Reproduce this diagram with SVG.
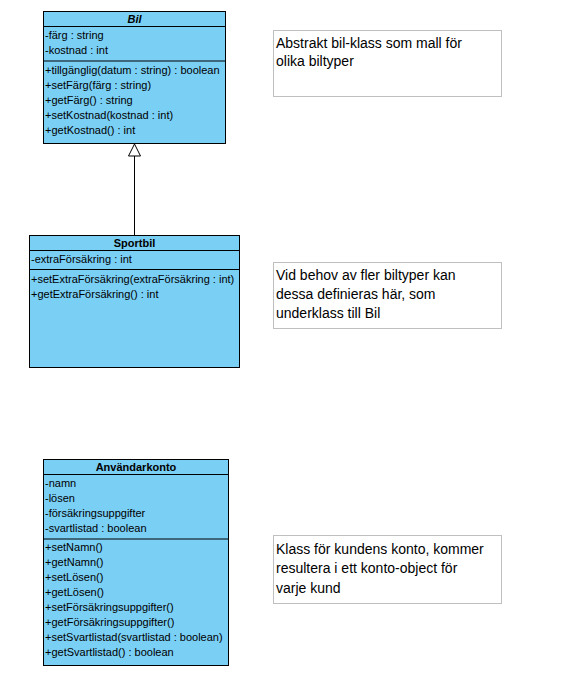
<svg xmlns="http://www.w3.org/2000/svg" width="565" height="680" viewBox="0 0 565 680">
<style>
.cls{fill:#7ACFF5;stroke:#000;stroke-width:1}
.sep{stroke:#000;stroke-width:1}
.t{font-family:"Liberation Sans",Arial,sans-serif;font-size:11px;fill:#000}
.h{font-family:"Liberation Sans",Arial,sans-serif;font-size:11px;font-weight:bold;fill:#000;text-anchor:middle}
.note{fill:#fff;stroke:#BFBFBF;stroke-width:1}
.n{font-family:"Liberation Sans",Arial,sans-serif;font-size:14px;fill:#000}
</style>
<rect width="565" height="680" fill="#fff"/>
<g id="connectors">
<line x1="134.5" y1="156" x2="134.5" y2="235.5" stroke="#000" stroke-width="1"/>
<polygon points="134.5,144 128.5,156 140.5,156" fill="#fff" stroke="#000" stroke-width="1"/>
</g>
<g id="Bil">
<rect class="cls" x="43.5" y="11.5" width="182" height="132"/>
<line class="sep" x1="43.5" y1="26.5" x2="225.5" y2="26.5"/>
<line class="sep" x1="43.5" y1="61" x2="225.5" y2="61"/>
<text class="h" x="134.5" y="23" font-style="italic">Bil</text>
<text class="t" x="45" y="39">-färg : string</text>
<text class="t" x="45" y="54">-kostnad : int</text>
<text class="t" x="45" y="74">+tillgänglig(datum : string) : boolean</text>
<text class="t" x="45" y="89">+setFärg(färg : string)</text>
<text class="t" x="45" y="104">+getFärg() : string</text>
<text class="t" x="45" y="119">+setKostnad(kostnad : int)</text>
<text class="t" x="45" y="134">+getKostnad() : int</text>
</g>
<g id="Sportbil">
<rect class="cls" x="29.5" y="235.5" width="210" height="132"/>
<line class="sep" x1="29.5" y1="250.5" x2="239.5" y2="250.5"/>
<line class="sep" x1="29.5" y1="269.5" x2="239.5" y2="269.5"/>
<text class="h" x="134.5" y="247">Sportbil</text>
<text class="t" x="31" y="263">-extraFörsäkring : int</text>
<text class="t" x="31" y="283">+setExtraFörsäkring(extraFörsäkring : int)</text>
<text class="t" x="31" y="298">+getExtraFörsäkring() : int</text>
</g>
<g id="Anvandarkonto">
<rect class="cls" x="43.5" y="459.5" width="185" height="206"/>
<line class="sep" x1="43.5" y1="474.5" x2="228.5" y2="474.5"/>
<line class="sep" x1="43.5" y1="539" x2="228.5" y2="539"/>
<text class="h" x="136" y="471">Användarkonto</text>
<text class="t" x="45" y="487">-namn</text>
<text class="t" x="45" y="502">-lösen</text>
<text class="t" x="45" y="517">-försäkringsuppgifter</text>
<text class="t" x="45" y="532">-svartlistad : boolean</text>
<text class="t" x="45" y="551">+setNamn()</text>
<text class="t" x="45" y="566">+getNamn()</text>
<text class="t" x="45" y="581">+setLösen()</text>
<text class="t" x="45" y="596">+getLösen()</text>
<text class="t" x="45" y="611">+setFörsäkringsuppgifter()</text>
<text class="t" x="45" y="626">+getFörsäkringsuppgifter()</text>
<text class="t" x="45" y="641">+setSvartlistad(svartlistad : boolean)</text>
<text class="t" x="45" y="656">+getSvartlistad() : boolean</text>
</g>
<g id="note1">
<rect class="note" x="273.5" y="30.5" width="228" height="66"/>
<text class="n" x="276" y="48">Abstrakt bil-klass som mall för</text>
<text class="n" x="276" y="66">olika biltyper</text>
</g>
<g id="note2">
<rect class="note" x="273.5" y="262.5" width="228" height="66"/>
<text class="n" x="276" y="280">Vid behov av fler biltyper kan</text>
<text class="n" x="276" y="299">dessa definieras här, som</text>
<text class="n" x="276" y="318">underklass till Bil</text>
</g>
<g id="note3">
<rect class="note" x="273.5" y="535.5" width="228" height="68"/>
<text class="n" x="276" y="554">Klass för kundens konto, kommer</text>
<text class="n" x="276" y="573">resultera i ett konto-object för</text>
<text class="n" x="276" y="593">varje kund</text>
</g>
</svg>
